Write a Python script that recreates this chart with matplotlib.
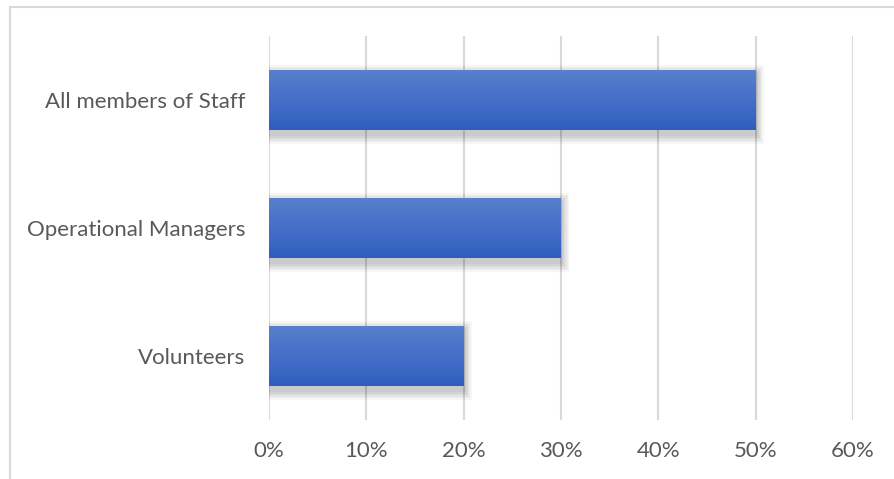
import numpy as np
import matplotlib.pyplot as plt
from matplotlib.patches import Rectangle
from matplotlib.colors import LinearSegmentedColormap
from matplotlib.ticker import PercentFormatter

categories = ['Volunteers', 'Operational Managers', 'All members of Staff']
values = [20, 30, 50]
xticks = [0, 10, 20, 30, 40, 50, 60]

plt.rcParams['font.family'] = ['Lato', 'DejaVu Sans']

fig = plt.figure(figsize=(8.94, 4.79), dpi=100)
ax = fig.add_axes([269 / 894, 1 - 420 / 479, (853 - 269) / 894, (420 - 36) / 479])

# chart border (left + top only visible in the reference)
fig.add_artist(plt.Line2D([10 / 894, 10 / 894], [0, 1 - 7 / 479], color='#d9d9d9', lw=1.5))
fig.add_artist(plt.Line2D([10 / 894, 1], [1 - 7 / 479, 1 - 7 / 479], color='#d9d9d9', lw=1.5))

height = 0.47
cmap = LinearSegmentedColormap.from_list('bar', ['#2e5fbf', '#5a80cf'])
grad = np.linspace(0, 1, 100).reshape(-1, 1)

for i, v in enumerate(values):
    # soft blurred shadow, mostly below the bar
    for k in range(6):
        grow = 0.012 * (6 - k)
        ax.add_patch(Rectangle((0.1 - grow * 10, i - height / 2 - 0.035 - grow),
                               v + grow * 20, height + grow * 2,
                               color='black', alpha=0.035, lw=0, zorder=2))
    bar = Rectangle((0, i - height / 2), v, height, facecolor='none', lw=0, zorder=3)
    ax.add_patch(bar)
    im = ax.imshow(grad, cmap=cmap, aspect='auto', extent=[0, v, i - height / 2, i + height / 2],
                   origin='lower', zorder=3)
    im.set_clip_path(bar)

ax.set_xlim(0, 60)
ax.set_ylim(-0.5, 2.5)
ax.set_xticks(xticks)
ax.xaxis.set_major_formatter(PercentFormatter(decimals=0))
ax.set_yticks(range(len(categories)))
ax.set_yticklabels(categories)
ax.grid(axis='x', color='#d9d9d9', lw=1.5, zorder=0)
ax.set_axisbelow(True)
for s in ax.spines.values():
    s.set_visible(False)
ax.tick_params(length=0, colors='#595959', labelsize=16)
ax.tick_params(axis='x', pad=15)
ax.tick_params(axis='y', pad=17)

plt.savefig('out.png', dpi=100)
